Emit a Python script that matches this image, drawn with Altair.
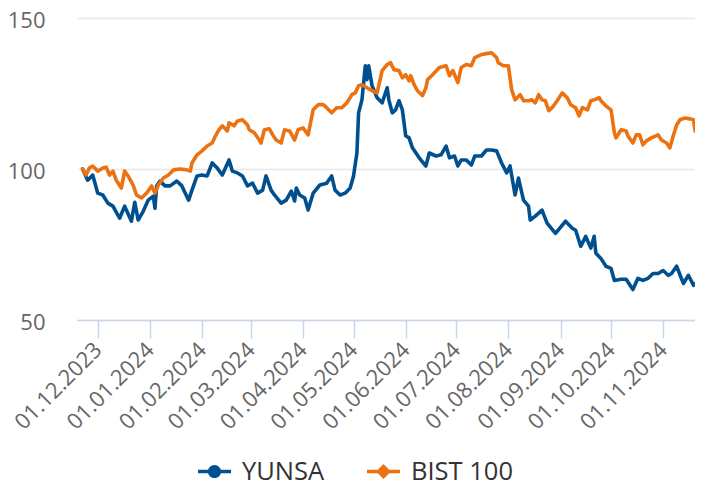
import altair as alt
import pandas as pd

yunsa_dates = [
    "2023-11-22", "2023-11-25", "2023-11-28", "2023-12-01", "2023-12-04", "2023-12-07",
    "2023-12-10", "2023-12-14", "2023-12-17", "2023-12-21", "2023-12-23", "2023-12-25",
    "2023-12-28", "2023-12-31", "2024-01-03", "2024-01-04", "2024-01-05", "2024-01-07",
    "2024-01-10", "2024-01-13", "2024-01-17", "2024-01-20", "2024-01-22", "2024-01-24",
    "2024-01-26", "2024-01-29", "2024-02-01", "2024-02-04", "2024-02-07", "2024-02-10",
    "2024-02-13", "2024-02-17", "2024-02-19", "2024-02-22", "2024-02-25", "2024-02-28",
    "2024-03-02", "2024-03-05", "2024-03-08", "2024-03-10", "2024-03-13", "2024-03-15",
    "2024-03-19", "2024-03-22", "2024-03-25", "2024-03-27", "2024-03-28", "2024-03-30",
    "2024-04-02", "2024-04-04", "2024-04-07", "2024-04-11", "2024-04-15", "2024-04-18",
    "2024-04-20", "2024-04-23", "2024-04-26", "2024-04-29", "2024-05-01", "2024-05-03",
    "2024-05-04", "2024-05-06", "2024-05-08", "2024-05-09", "2024-05-10", "2024-05-12",
    "2024-05-15", "2024-05-18", "2024-05-21", "2024-05-22", "2024-05-24", "2024-05-26",
    "2024-05-28", "2024-05-30", "2024-06-01", "2024-06-03", "2024-06-05", "2024-06-09",
    "2024-06-13", "2024-06-15", "2024-06-19", "2024-06-22", "2024-06-25", "2024-06-27",
    "2024-06-30", "2024-07-02", "2024-07-04", "2024-07-07", "2024-07-10", "2024-07-12",
    "2024-07-16", "2024-07-19", "2024-07-22", "2024-07-25", "2024-07-28", "2024-07-31",
    "2024-08-02", "2024-08-05", "2024-08-07", "2024-08-10", "2024-08-13", "2024-08-14",
    "2024-08-17", "2024-08-21", "2024-08-24", "2024-08-29", "2024-09-04", "2024-09-08",
    "2024-09-10", "2024-09-13", "2024-09-16", "2024-09-19", "2024-09-21", "2024-09-22",
    "2024-09-25", "2024-09-28", "2024-10-01", "2024-10-03", "2024-10-07", "2024-10-10",
    "2024-10-14", "2024-10-17", "2024-10-20", "2024-10-23", "2024-10-26", "2024-10-29",
    "2024-11-01", "2024-11-04", "2024-11-06", "2024-11-09", "2024-11-13", "2024-11-16",
    "2024-11-19", "2024-11-22",
]
yunsa_values = [
    100.0, 96.3, 98.0, 92.0, 91.4, 88.7,
    87.7, 83.7, 87.7, 82.7, 89.0, 83.1,
    86.0, 89.7, 91.0, 87.0, 94.4, 96.0,
    94.4, 94.4, 96.0, 94.4, 92.0, 89.7,
    93.0, 97.7, 98.0, 97.7, 102.0, 100.3,
    98.0, 103.0, 99.3, 98.7, 97.7, 94.4,
    95.3, 92.0, 93.0, 97.7, 93.0, 91.4,
    88.7, 89.7, 92.7, 89.4, 93.7, 91.4,
    90.4, 86.4, 92.0, 94.7, 95.3, 97.7,
    93.0, 91.4, 92.0, 93.7, 97.7, 105.3,
    118.6, 122.9, 134.2, 129.6, 134.2, 127.6,
    123.6, 121.9, 126.9, 122.9, 118.6, 119.6,
    122.6, 119.6, 111.0, 110.3, 107.0, 103.7,
    101.0, 105.3, 104.3, 104.7, 107.6, 103.7,
    104.3, 101.0, 103.0, 103.0, 101.3, 104.3,
    104.3, 106.3, 106.3, 106.0, 102.0, 98.7,
    101.0, 91.4, 97.0, 89.7, 87.7, 83.1,
    84.4, 86.4, 82.1, 78.7, 82.7, 80.4,
    79.7, 74.4, 77.7, 73.8, 77.7, 72.1,
    70.4, 67.8, 67.1, 63.1, 63.5, 63.5,
    60.1, 63.8, 63.1, 63.8, 65.4, 65.4,
    66.4, 64.8, 65.4, 67.8, 62.1, 64.8,
    61.5, 62.8,
]

bist_dates = [
    "2023-11-22", "2023-11-24", "2023-11-26", "2023-11-28", "2023-12-01", "2023-12-04",
    "2023-12-06", "2023-12-08", "2023-12-10", "2023-12-12", "2023-12-15", "2023-12-17",
    "2023-12-19", "2023-12-22", "2023-12-24", "2023-12-27", "2023-12-30", "2024-01-02",
    "2024-01-04", "2024-01-06", "2024-01-09", "2024-01-12", "2024-01-15", "2024-01-19",
    "2024-01-23", "2024-01-25", "2024-01-26", "2024-01-29", "2024-02-01", "2024-02-04",
    "2024-02-07", "2024-02-09", "2024-02-11", "2024-02-13", "2024-02-16", "2024-02-17",
    "2024-02-20", "2024-02-22", "2024-02-25", "2024-02-28", "2024-02-29", "2024-03-03",
    "2024-03-06", "2024-03-07", "2024-03-09", "2024-03-12", "2024-03-14", "2024-03-16",
    "2024-03-19", "2024-03-21", "2024-03-24", "2024-03-27", "2024-03-29", "2024-04-01",
    "2024-04-04", "2024-04-07", "2024-04-10", "2024-04-13", "2024-04-15", "2024-04-18",
    "2024-04-21", "2024-04-24", "2024-04-27", "2024-04-30", "2024-05-02", "2024-05-04",
    "2024-05-06", "2024-05-09", "2024-05-12", "2024-05-15", "2024-05-16", "2024-05-18",
    "2024-05-21", "2024-05-23", "2024-05-25", "2024-05-28", "2024-05-30", "2024-06-01",
    "2024-06-03", "2024-06-04", "2024-06-06", "2024-06-08", "2024-06-11", "2024-06-13",
    "2024-06-14", "2024-06-17", "2024-06-21", "2024-06-25", "2024-06-27", "2024-06-29",
    "2024-07-02", "2024-07-04", "2024-07-07", "2024-07-10", "2024-07-12", "2024-07-16",
    "2024-07-19", "2024-07-22", "2024-07-25", "2024-07-26", "2024-07-29", "2024-08-01",
    "2024-08-03", "2024-08-05", "2024-08-08", "2024-08-10", "2024-08-13", "2024-08-15",
    "2024-08-17", "2024-08-19", "2024-08-21", "2024-08-23", "2024-08-25", "2024-08-27",
    "2024-08-30", "2024-09-02", "2024-09-05", "2024-09-07", "2024-09-10", "2024-09-12",
    "2024-09-14", "2024-09-17", "2024-09-19", "2024-09-21", "2024-09-24", "2024-09-25",
    "2024-09-28", "2024-10-01", "2024-10-03", "2024-10-04", "2024-10-07", "2024-10-10",
    "2024-10-11", "2024-10-14", "2024-10-16", "2024-10-18", "2024-10-20", "2024-10-22",
    "2024-10-25", "2024-10-29", "2024-10-31", "2024-11-03", "2024-11-05", "2024-11-07",
    "2024-11-09", "2024-11-11", "2024-11-14", "2024-11-17", "2024-11-19", "2024-11-20",
    "2024-11-22",
]
bist_values = [
    100.0, 98.0, 100.3, 101.0, 99.3, 100.3,
    100.6, 98.0, 99.3, 96.3, 93.7, 99.3,
    97.7, 94.7, 91.4, 90.4, 92.0, 94.4,
    92.0, 94.7, 97.0, 98.0, 99.7, 100.0,
    99.7, 99.3, 102.0, 104.7, 106.0, 107.6,
    108.6, 111.0, 113.0, 114.3, 112.6, 115.3,
    114.3, 115.9, 116.3, 114.6, 113.0, 112.0,
    109.6, 108.6, 113.0, 113.3, 111.3, 109.6,
    108.6, 113.0, 112.6, 109.6, 113.0, 113.6,
    111.3, 119.6, 121.3, 121.3, 120.3, 118.6,
    120.3, 120.3, 121.9, 124.6, 125.2, 127.6,
    127.9, 126.9, 125.9, 125.2, 127.6, 132.6,
    134.6, 135.2, 132.9, 132.6, 130.2, 131.2,
    129.2, 130.9, 127.9, 125.9, 124.3, 126.9,
    129.6, 131.2, 133.6, 134.2, 130.9, 132.6,
    128.6, 133.6, 134.6, 134.2, 136.9, 137.9,
    138.2, 138.5, 136.9, 135.2, 134.2, 134.2,
    126.2, 122.9, 124.6, 122.6, 122.6, 122.9,
    121.9, 124.6, 122.9, 122.6, 119.3, 120.3,
    122.6, 125.2, 123.6, 121.3, 120.3, 117.6,
    120.3, 119.6, 122.6, 122.9, 123.6, 122.6,
    120.9, 119.6, 112.0, 110.3, 113.0, 112.6,
    111.0, 108.6, 111.3, 111.3, 108.0, 109.3,
    110.3, 111.3, 109.6, 108.6, 107.0, 111.0,
    114.6, 116.3, 116.9, 116.6, 116.3, 112.6,
    116.3,
]

series_names = ["YUNSA", "BIST 100"]
series_colors = ["#00508f", "#ec7211"]
month_ticks = [
    (2023, 12), (2024, 1), (2024, 2), (2024, 3), (2024, 4), (2024, 5),
    (2024, 6), (2024, 7), (2024, 8), (2024, 9), (2024, 10), (2024, 11),
]
y_ticks = [50, 100, 150]

df = pd.concat([
    pd.DataFrame({"date": [d + "T00:00:00" for d in yunsa_dates], "value": yunsa_values, "series": "YUNSA"}),
    pd.DataFrame({"date": [d + "T00:00:00" for d in bist_dates], "value": bist_values, "series": "BIST 100"}),
])

FONT = "Open Sans"
circle_path = "M-1,-0.1L1,-0.1L1,0.1L-1,0.1Z M0.4,0 A0.4,0.4 0 1,1 -0.4,0 A0.4,0.4 0 1,1 0.4,0Z"
diamond_path = "M-1,-0.1L1,-0.1L1,0.1L-1,0.1Z M0,-0.45L0.45,0L0,0.45L-0.45,0Z"

shape_expr = "datum.value === 'YUNSA' ? '" + circle_path + "' : '" + diamond_path + "'"
fill_expr = "datum.value === 'YUNSA' ? '" + series_colors[0] + "' : '" + series_colors[1] + "'"

chart = alt.Chart(df).mark_line(strokeWidth=3.6, strokeJoin="round", strokeCap="round").encode(
    x=alt.X(
        "date:T",
        scale=alt.Scale(domain=[alt.DateTime(year=2023, month=11, date=18, hours=16),
                                alt.DateTime(year=2024, month=11, date=19, hours=22)]),
        axis=alt.Axis(
            title=None,
            values=[alt.DateTime(year=y, month=m, date=1) for y, m in month_ticks],
            format="%d.%m.%Y",
            labelAngle=-45,
            labelAlign="right",
            labelBaseline="middle",
            labelFont=FONT,
            labelFontSize=22,
            labelColor="#666666",
            labelPadding=8,
            labelOverlap=False,
            labelBound=False,
            labelFlush=False,
            domainColor="#ccd6eb",
            domainWidth=1.5,
            tickColor="#ccd6eb",
            tickWidth=1.5,
            tickSize=18,
            grid=False,
        ),
    ),
    y=alt.Y(
        "value:Q",
        scale=alt.Scale(domain=[50, 150], nice=False, zero=False),
        axis=alt.Axis(
            title=None,
            values=y_ticks,
            labelFont=FONT,
            labelFontSize=22,
            labelColor="#666666",
            labelPadding=32,
            labelOffset=2,
            domain=False,
            ticks=False,
            grid=True,
            gridColor="#e6e6e6",
            gridWidth=1.3,
        ),
    ),
    color=alt.Color(
        "series:N",
        scale=alt.Scale(domain=series_names, range=series_colors),
        sort=series_names,
        legend=alt.Legend(
            title=None,
            orient="none",
            legendX=121,
            legendY=437,
            direction="horizontal",
            padding=0,
            labelFont=FONT,
            labelFontSize=25.5,
            labelColor="#333333",
            labelOffset=11,
            columnPadding=42,
            symbolSize=1089,
            symbolStrokeWidth=0,
            symbolOpacity=1,
            symbolType=alt.ExprRef(expr=shape_expr),
            symbolFillColor=alt.ExprRef(expr=fill_expr),
        ),
    ),
).properties(
    width=618,
    height=302,
    autosize=alt.AutoSizeParams(type="none"),
    padding={"left": 69, "top": 10, "right": 0, "bottom": 166},
).configure_view(stroke=None)

chart.save("out.html", embed_options={"renderer": "svg", "actions": False})
